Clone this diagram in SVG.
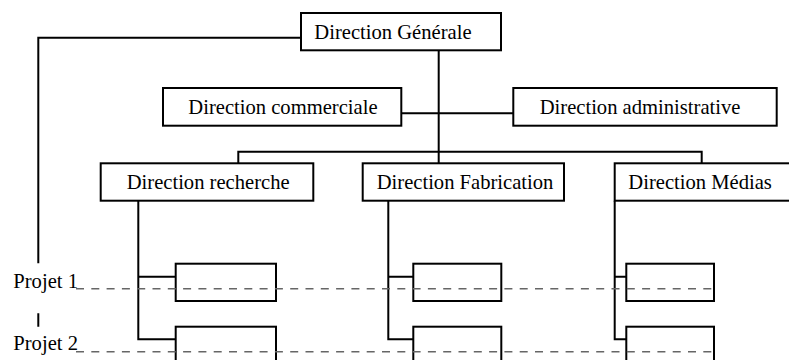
<svg xmlns="http://www.w3.org/2000/svg" width="789" height="360" viewBox="0 0 789 360">
<style>
.box{fill:#fff;stroke:#000;stroke-width:2}
.ln{fill:none;stroke:#000;stroke-width:2}
.dash{fill:none;stroke:#666;stroke-width:1.5;stroke-dasharray:8 7.3}
text{font-family:"Liberation Serif","Times New Roman",serif;font-size:20.6px;fill:#000}
</style>
<rect width="789" height="360" fill="#fff"/>
<g id="connectors">
<path class="ln" d="M301 37.7H38.3V263.3M38.3 313.3V326.7"/>
<path class="ln" d="M438.7 50V163M401.3 113.3H513.3M238.3 163V151.7H701.7V163"/>
<path class="ln" d="M138.3 200.7V339.3H175.7M138.3 276.7H175.7"/>
<path class="ln" d="M388.3 200.7V339.3H413.3M388.3 276.7H413.3"/>
<path class="ln" d="M614.7 200.7V339.3H626.3M614.7 276.7H626.3"/>
</g>
<g id="dg"><rect class="box" x="301" y="13" width="200" height="37.3"/><text x="314.3" y="38.5">Direction Générale</text></g>
<g id="dc"><rect class="box" x="163" y="88" width="238.3" height="37.7"/><text x="188.3" y="113.5">Direction commerciale</text></g>
<g id="da"><rect class="box" x="513.3" y="88" width="263.4" height="37.7"/><text x="539.7" y="113.5">Direction administrative</text></g>
<g id="dr"><rect class="box" x="100.7" y="163.3" width="212.6" height="37.4"/><text x="126.7" y="188.5">Direction recherche</text></g>
<g id="df"><rect class="box" x="362.7" y="163.3" width="201.3" height="37.4"/><text x="376.7" y="188.5">Direction Fabrication</text></g>
<g id="dm"><rect class="box" x="614.7" y="163.3" width="190" height="37.4"/><text x="628.3" y="188.5">Direction Médias</text></g>
<g id="r1"><rect class="box" x="175.7" y="263.7" width="100.3" height="37.3"/></g>
<g id="r2"><rect class="box" x="175.7" y="326.7" width="100.3" height="50"/></g>
<g id="f1"><rect class="box" x="413.3" y="263.7" width="88" height="37.3"/></g>
<g id="f2"><rect class="box" x="413.3" y="326.7" width="88" height="50"/></g>
<g id="m1"><rect class="box" x="626.3" y="263.7" width="87.7" height="37.3"/></g>
<g id="m2"><rect class="box" x="626.3" y="326.7" width="87.7" height="50"/></g>
<g id="p1"><text x="13.3" y="288.3">Projet 1</text></g>
<g id="p2"><text x="13.3" y="350">Projet 2</text></g>
<g id="dashes">
<path class="dash" d="M76 288.7H714M76 351.7H714"/>
</g>
</svg>
